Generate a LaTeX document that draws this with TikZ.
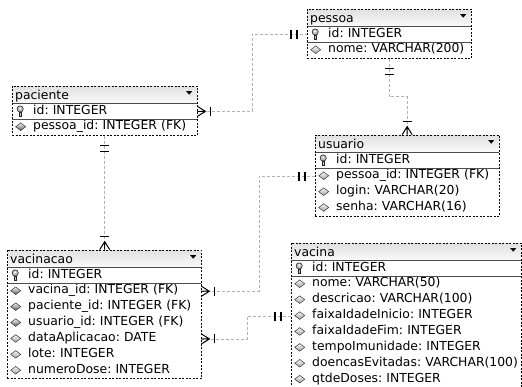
\documentclass[tikz,border=0pt]{standalone}
\usepackage{fontspec}
\setmainfont{DejaVu Sans}[WordSpace=0.85]
\frenchspacing
\usetikzlibrary{positioning,fit,calc}
\tikzset{x=1pt,y=-1pt,
tblfont/.style={font=\fontsize{12.4}{14}\selectfont\frenchspacing},
tbltitle/.style={tblfont,anchor=north west,text width=#1,align=left,
  inner xsep=3pt,inner ysep=0pt,text height=13pt,text depth=4pt,
  top color=gray!24,bottom color=gray!4,execute at begin node={\noindent},
  path picture={\fill ($(path picture bounding box.east)+(-11,-3.5)$) -- ++(6,0) -- ++(-3,3.5) -- cycle;}},
tblattr/.style={tblfont,text width=#1,align=left,inner xsep=3pt,inner ysep=0pt,
  text height=10.5pt,text depth=5pt,fill=white,
  execute at begin node={\noindent\hspace*{18pt}\hbox\bgroup},
  execute at end node={\egroup}},
keyattr/.style={tblattr=#1,path picture={\pic at ($(path picture bounding box.west)+(8,0)$) {keyicon};}},
plainattr/.style={tblattr=#1,path picture={\pic at ($(path picture bounding box.west)+(8.5,-0.5)$) {diamicon=gray!70};}},
fkattr/.style={tblattr=#1,path picture={\pic at ($(path picture bounding box.west)+(8.5,-0.5)$) {diamicon=gray!70!black};}},
tblframe/.style={draw,dash pattern=on 2pt off 1.5pt,line width=0.7pt,inner sep=0pt},
sepline/.style={draw=black!70,line width=0.6pt},
rel/.style={draw=gray!60,dash pattern=on 3pt off 2pt,line width=0.6pt},
pics/keyicon/.style={code={
  \filldraw[draw=gray!30!black,fill=gray!50,line width=0.6pt] (0,-2.4) circle (3.1);
  \fill[white] (0,-3) circle (1.1);
  \filldraw[draw=gray!30!black,fill=gray!50,line width=0.6pt] (-1.3,0.5) rectangle (1.3,5.4);
}},
pics/diamicon/.style={code={
  \shadedraw[top color=gray!8,bottom color=#1,draw=gray!40!black,line width=0.5pt]
    (-5,0) -- (0,-3.8) -- (5,0) -- (0,3.8) -- cycle;
}},
pics/crowfoot/.style={code={
  \draw[line width=1pt] (0,-5) -- (8,0) -- (0,5) (0,0) -- (8,0);
  \draw[line width=1.3pt] (13,-4.5) -- (13,4.5);
}},
pics/onlyone/.style={code={
  \draw[line width=1.3pt] (10,-4.5) -- (10,4.5) (16,-4.5) -- (16,4.5);
}},
}
\begin{document}
\begin{tikzpicture}
\useasboundingbox (0,0) rectangle (522,387);

\node[tbltitle=158] (pes-h) at (307,9) {pessoa};
\node[keyattr=158,below=0pt of pes-h] (pes-id) {id: INTEGER};
\node[plainattr=158,below=0pt of pes-id] (pes-nome) {nome: VARCHAR(200)};

\node[tbltitle=179] (pac-h) at (12,86) {paciente};
\node[keyattr=179,below=0pt of pac-h] (pac-id) {id: INTEGER};
\node[fkattr=179,below=0pt of pac-id] (pac-pes) {pessoa\_id: INTEGER (FK)};

\node[tbltitle=178] (usu-h) at (315,135) {usuario};
\node[keyattr=178,below=0pt of usu-h] (usu-id) {id: INTEGER};
\node[plainattr=178,below=0pt of usu-id] (usu-pes) {pessoa\_id: INTEGER (FK)};
\node[plainattr=178,below=0pt of usu-pes] (usu-login) {login: VARCHAR(20)};
\node[plainattr=178,below=0pt of usu-login] (usu-senha) {senha: VARCHAR(16)};

\node[tbltitle=188] (vcn-h) at (7,250) {vacinacao};
\node[keyattr=188,below=0pt of vcn-h] (vcn-id) {id: INTEGER};
\node[fkattr=188,below=0pt of vcn-id] (vcn-vac) {vacina\_id: INTEGER (FK)};
\node[fkattr=188,below=0pt of vcn-vac] (vcn-pac) {paciente\_id: INTEGER (FK)};
\node[fkattr=188,below=0pt of vcn-pac] (vcn-usu) {usuario\_id: INTEGER (FK)};
\node[plainattr=188,below=0pt of vcn-usu] (vcn-data) {dataAplicacao: DATE};
\node[plainattr=188,below=0pt of vcn-data] (vcn-lote) {lote: INTEGER};
\node[plainattr=188,below=0pt of vcn-lote] (vcn-dose) {numeroDose: INTEGER};

\node[tbltitle=224] (vca-h) at (291,243) {vacina};
\node[keyattr=224,below=0pt of vca-h] (vca-id) {id: INTEGER};
\node[plainattr=224,below=0pt of vca-id] (vca-nome) {nome: VARCHAR(50)};
\node[plainattr=224,below=0pt of vca-nome] (vca-desc) {descricao: VARCHAR(100)};
\node[plainattr=224,below=0pt of vca-desc] (vca-ini) {faixaIdadeInicio: INTEGER};
\node[plainattr=224,below=0pt of vca-ini] (vca-fim) {faixaIdadeFim: INTEGER};
\node[plainattr=224,below=0pt of vca-fim] (vca-imu) {tempoImunidade: INTEGER};
\node[plainattr=224,below=0pt of vca-imu] (vca-doe) {doencasEvitadas: VARCHAR(100)};
\node[plainattr=224,below=0pt of vca-doe] (vca-qtd) {qtdeDoses: INTEGER};

\draw[sepline]
(pes-h.south west) -- (pes-h.south east) (pes-id.south west) -- (pes-id.south east)
(pac-h.south west) -- (pac-h.south east) (pac-id.south west) -- (pac-id.south east)
(usu-h.south west) -- (usu-h.south east) (usu-id.south west) -- (usu-id.south east)
(vcn-h.south west) -- (vcn-h.south east) (vcn-id.south west) -- (vcn-id.south east)
(vca-h.south west) -- (vca-h.south east) (vca-id.south west) -- (vca-id.south east);

\node[tblframe,fit=(pes-h)(pes-nome)] (pes) {};
\node[tblframe,fit=(pac-h)(pac-pes)] (pac) {};
\node[tblframe,fit=(usu-h)(usu-senha)] (usu) {};
\node[tblframe,fit=(vcn-h)(vcn-dose)] (vcn) {};
\node[tblframe,fit=(vca-h)(vca-qtd)] (vca) {};

\path[rel]
(pac-id.east) -- ++(55,0) |- (pes-id.west)
(pes.south) -- ++(0,38) -| (usu.north)
(pac.south) -- (pac.south |- vcn.north)
(usu-pes.west) -- ++(-56,0) |- (vcn-vac.east)
(vca-ini.west) -- ++(-44,0) |- (vcn-data.east);

\pic at (pac-id.east) {crowfoot};
\pic[rotate=180] at (pes-id.west) {onlyone};
\pic[rotate=-90] at (pes.south) {onlyone};
\pic[rotate=90] at (usu.north) {crowfoot};
\pic[rotate=-90] at (pac.south) {onlyone};
\pic[rotate=90] at (pac.south |- vcn.north) {crowfoot};
\pic[rotate=180] at (usu-pes.west) {onlyone};
\pic at (vcn-vac.east) {crowfoot};
\pic[rotate=180] at (vca-ini.west) {onlyone};
\pic at (vcn-data.east) {crowfoot};
\end{tikzpicture}
\end{document}
